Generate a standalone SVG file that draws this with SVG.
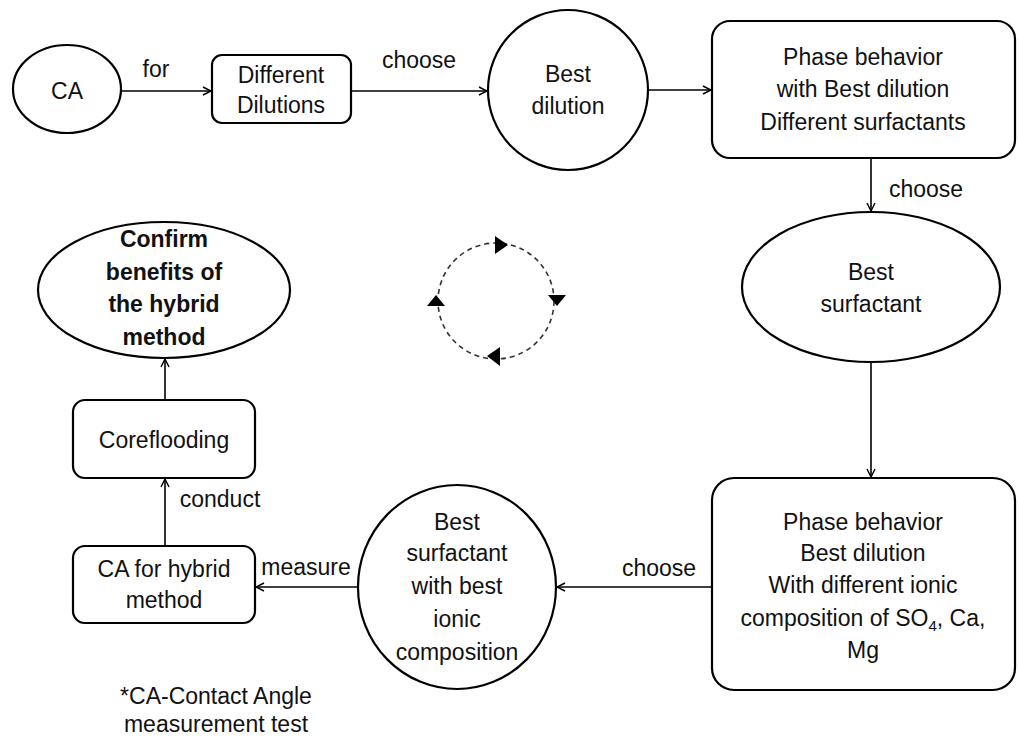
<svg xmlns="http://www.w3.org/2000/svg" width="1019" height="740" viewBox="0 0 1019 740">
<style>
.s{fill:#fff;stroke:#000;stroke-width:2.2}
.t{font-family:"Liberation Sans",Arial,sans-serif;font-size:23px;fill:#111;text-anchor:middle}
.b{font-weight:bold}
.c{fill:none;stroke:#000;stroke-width:1.6}
.d{fill:none;stroke:#333;stroke-width:1.6;stroke-dasharray:5 4}
</style>
<defs>
<marker id="a" viewBox="0 0 10 10" refX="9" refY="5" markerWidth="10" markerHeight="10" markerUnits="userSpaceOnUse" orient="auto">
<path d="M1,1 L9,5 L1,9" fill="none" stroke="#000" stroke-width="1.4"/>
</marker>
</defs>
<g id="n-ca"><ellipse class="s" cx="67" cy="89" rx="54" ry="44"/><text class="t" x="67" y="99">CA</text></g>
<g id="n-dil"><rect class="s" x="212" y="55" width="139" height="68" rx="10"/><text class="t" x="281" y="83">Different</text><text class="t" x="281" y="113">Dilutions</text></g>
<g id="n-bestdil"><circle class="s" cx="568" cy="90" r="80"/><text class="t" x="568" y="82">Best</text><text class="t" x="568" y="114">dilution</text></g>
<g id="n-phase1"><rect class="s" x="712" y="21" width="303" height="137" rx="18"/><text class="t" x="863" y="65">Phase behavior</text><text class="t" x="863" y="97">with Best dilution</text><text class="t" x="863" y="130">Different surfactants</text></g>
<g id="n-bestsurf"><ellipse class="s" cx="871" cy="287" rx="129" ry="75"/><text class="t" x="871" y="280">Best</text><text class="t" x="871" y="312">surfactant</text></g>
<g id="n-phase2"><rect class="s" x="712" y="478" width="303" height="212" rx="22"/><text class="t" x="863" y="530">Phase behavior</text><text class="t" x="863" y="561">Best dilution</text><text class="t" x="863" y="593">With different ionic</text><text class="t" x="863" y="626">composition of SO<tspan font-size="15" dy="5">4</tspan><tspan dy="-5">, Ca,</tspan></text><text class="t" x="863" y="658">Mg</text></g>
<g id="n-bestion"><ellipse class="s" cx="457" cy="587" rx="99" ry="102"/><text class="t" x="457" y="530">Best</text><text class="t" x="457" y="561">surfactant</text><text class="t" x="457" y="594">with best</text><text class="t" x="457" y="627">ionic</text><text class="t" x="457" y="660">composition</text></g>
<g id="n-cahyb"><rect class="s" x="73" y="546" width="182" height="77" rx="12"/><text class="t" x="164" y="577">CA for hybrid</text><text class="t" x="164" y="608">method</text></g>
<g id="n-core"><rect class="s" x="73" y="400" width="182" height="78" rx="12"/><text class="t" x="164" y="448">Coreflooding</text></g>
<g id="n-confirm"><ellipse class="s" cx="164" cy="290" rx="126" ry="68"/><text class="t b" x="164" y="247">Confirm</text><text class="t b" x="164" y="280">benefits of</text><text class="t b" x="164" y="312">the hybrid</text><text class="t b" x="164" y="345">method</text></g>
<g id="connectors">
<line class="c" x1="121" y1="91" x2="211" y2="91" marker-end="url(#a)"/>
<line class="c" x1="351" y1="91" x2="487" y2="91" marker-end="url(#a)"/>
<line class="c" x1="648" y1="90" x2="711" y2="90" marker-end="url(#a)"/>
<line class="c" x1="871" y1="158" x2="871" y2="211" marker-end="url(#a)"/>
<line class="c" x1="871" y1="362" x2="871" y2="477" marker-end="url(#a)"/>
<line class="c" x1="712" y1="587" x2="557" y2="587" marker-end="url(#a)"/>
<line class="c" x1="358" y1="587" x2="256" y2="587" marker-end="url(#a)"/>
<line class="c" x1="165" y1="546" x2="165" y2="479" marker-end="url(#a)"/>
<line class="c" x1="165" y1="400" x2="165" y2="359" marker-end="url(#a)"/>
<text class="t" x="156" y="77">for</text>
<text class="t" x="419" y="68">choose</text>
<text class="t" x="926" y="197">choose</text>
<text class="t" x="659" y="576">choose</text>
<text class="t" x="306" y="575">measure</text>
<text class="t" x="220" y="507">conduct</text>
</g>
<g id="cycle">
<circle class="d" cx="496" cy="301" r="58"/>
<path d="M495,236 L508,245 L495,254 Z" fill="#000"/>
<path d="M548,295 L566,295 L557,306 Z" fill="#000"/>
<path d="M500,347 L487,356 L500,366 Z" fill="#000"/>
<path d="M427,306 L445,306 L436,295 Z" fill="#000"/>
</g>
<text class="t" x="216" y="704">*CA-Contact Angle</text>
<text class="t" x="216" y="732">measurement test</text>
</svg>
